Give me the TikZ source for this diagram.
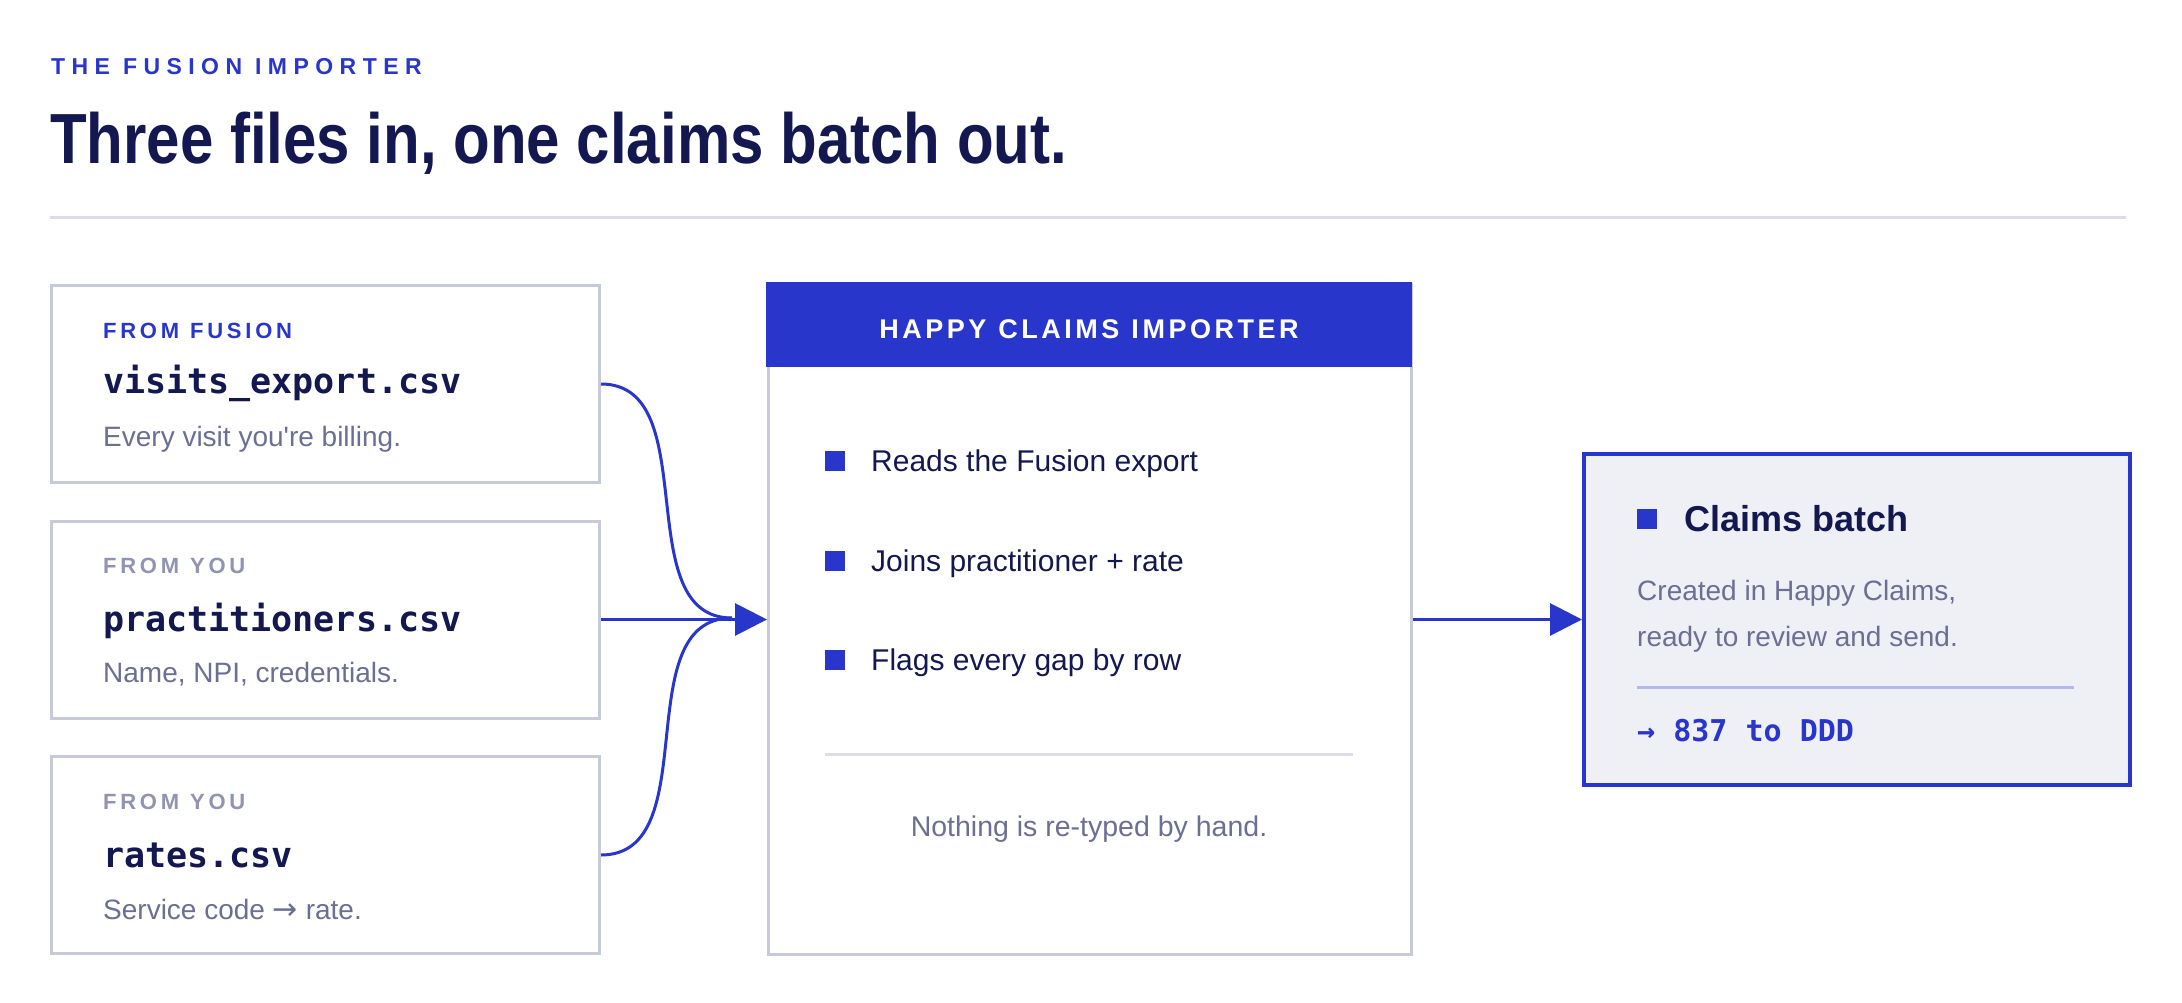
\documentclass[tikz,border=0pt]{standalone}
\usepackage{fontspec}
\usepackage{graphicx}
\setmainfont{Liberation Sans}[Ligatures=TeXOff]
\newfontfamily\codefont{DejaVu Sans Mono}
\newfontfamily\arrowfont{DejaVu Sans}
\usetikzlibrary{arrows.meta}
\definecolor{brandblue}{HTML}{2936CC}
\definecolor{navy}{HTML}{141850}
\definecolor{softgray}{HTML}{6B6F93}
\definecolor{labelgray}{HTML}{9094B0}
\definecolor{bordergray}{HTML}{C8CAD9}
\definecolor{rulegray}{HTML}{DCDCEA}
\definecolor{outfill}{HTML}{EFEFF6}
\definecolor{outsep}{HTML}{B5B8EA}
\newcommand\setfs[1]{\fontsize{#1}{#1}\selectfont}
\begin{document}
\begin{tikzpicture}[x=1pt,y=-1pt,
  filebox/.style={draw=bordergray, line width=3pt, minimum width=548pt, minimum height=197pt, anchor=north west, inner sep=0pt},
  lblblue/.style={anchor=base west, inner sep=0pt, text=brandblue, font=\setfs{22}\bfseries\addfontfeature{LetterSpace=17}},
  lblgray/.style={anchor=base west, inner sep=0pt, text=labelgray, font=\setfs{22}\bfseries\addfontfeature{LetterSpace=17}},
  fname/.style={anchor=mid west, inner sep=0pt, text=navy, font=\codefont\bfseries\setfs{35}},
  fdesc/.style={anchor=mid west, inner sep=0pt, text=softgray, font=\setfs{28}},
  bulletsq/.style={fill=brandblue, minimum size=20pt, inner sep=0pt},
  bullettxt/.style={anchor=mid west, inner sep=0pt, text=navy, font=\setfs{30}},
  conn/.style={draw=brandblue, line width=3pt},
  tip/.style={-{Triangle[length=32pt,width=32pt]}}
]
\useasboundingbox[fill=white] (0,0) rectangle (2182,1002);

% heading
\node[anchor=base west, inner sep=0pt, text=brandblue, font=\setfs{23}\bfseries\addfontfeature{LetterSpace=28}] (eyebrow) at (51,74) {THE\kern13pt FUSION\kern13pt IMPORTER};
\node[anchor=base west, inner sep=0pt, text=navy, font=\setfs{71}\bfseries] (title) at (50,163) {\scalebox{0.845}[1]{Three files in, one claims batch out.}};
\draw[rulegray, line width=3pt] (50,217) -- (2126,217);

% input files
\node[filebox] (f1) at (50,284) {};
\node[lblblue] (f1l) at (103,338) {FROM\kern11pt FUSION};
\node[fname] (f1n) at (103,391) {visits\_export.csv};
\node[fdesc] (f1d) at (103,444) {Every visit you're billing.};

\node[filebox] (f2) at (50,520) {};
\node[lblgray] (f2l) at (103,573) {FROM\kern11pt YOU};
\node[fname] (f2n) at (103,629) {practitioners.csv};
\node[fdesc] (f2d) at (103,680) {Name, NPI, credentials.};

\node[filebox] (f3) at (50,755) {};
\node[lblgray] (f3l) at (103,809) {FROM\kern11pt YOU};
\node[fname] (f3n) at (103,865) {rates.csv};
\node[fdesc] (f3d) at (103,917) {Service code {\arrowfont\setfs{30}→} rate.};

% importer
\node[draw=bordergray, line width=3pt, minimum width=643pt, minimum height=670pt, anchor=north west, inner sep=0pt] (imp) at (767,283) {};
\node[fill=brandblue, minimum width=646pt, minimum height=85pt, anchor=north west, inner sep=0pt] (hdr) at (765.5,281.5) {};
\node[anchor=base, text=white, inner sep=0pt, font=\setfs{27}\bfseries\addfontfeature{LetterSpace=13}] (hdrt) at (1089,338) {HAPPY\kern12pt CLAIMS\kern12pt IMPORTER};

\node[bulletsq] (b1) at (835,461) {};
\node[bullettxt] (b1t) at (871,469) {Reads the Fusion export};
\node[bulletsq] (b2) at (835,561) {};
\node[bullettxt] (b2t) at (871,569) {Joins practitioner + rate};
\node[bulletsq] (b3) at (835,660) {};
\node[bullettxt] (b3t) at (871,668) {Flags every gap by row};
\draw[rulegray, line width=3pt] (825,754) -- (1353,754);
\node[text=softgray, inner sep=0pt, font=\setfs{28.5}] (note) at (1089,829) {Nothing is re-typed by hand.};

% output
\node[draw=brandblue, fill=outfill, line width=4pt, minimum width=546pt, minimum height=331pt, anchor=north west, inner sep=0pt] (out) at (1582,452) {};
\node[bulletsq] (ob) at (1647,519) {};
\node[anchor=mid west, inner sep=0pt, text=navy, font=\setfs{36}\bfseries] (outt) at (1684,529) {Claims batch};
\node[anchor=mid west, inner sep=0pt, text=softgray, font=\setfs{28}] (outd1) at (1637,598) {Created in Happy Claims,};
\node[anchor=mid west, inner sep=0pt, text=softgray, font=\setfs{28}] (outd2) at (1637,644) {ready to review and send.};
\draw[outsep, line width=3pt] (1637,687) -- (2074,687);
\node[anchor=mid west, inner sep=0pt, text=brandblue, font=\codefont\bfseries\setfs{30}] (outc) at (1637,739) {→ 837 to DDD};

% connectors
\coordinate (join) at (732,618);
\draw[conn] (f1.east) to[out=0,in=180] (join);
\draw[conn] (f3.east) to[out=0,in=180] (join);
\draw[conn, tip] (f2.east |- imp.west) -- (imp.west);
\draw[conn, tip] (imp.east) -- (out.west);
\end{tikzpicture}
\end{document}
